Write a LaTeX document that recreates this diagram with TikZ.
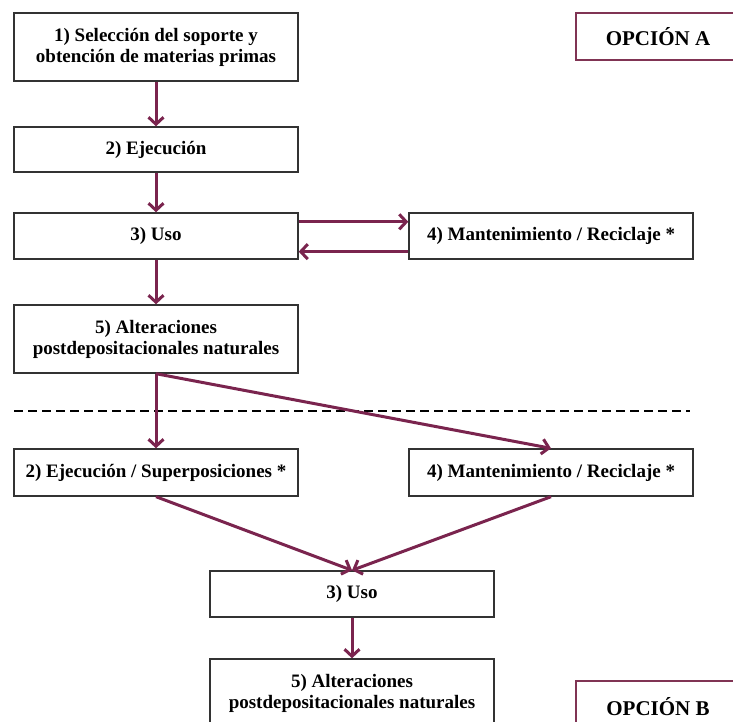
\documentclass[tikz,border=0pt]{standalone}
\usepackage{fontspec}
\setmainfont{Liberation Serif}
\usepackage{tikz}
\usetikzlibrary{arrows.meta,calc}

\definecolor{granate}{RGB}{122,36,78}
\definecolor{bordeop}{RGB}{128,52,84}

\tikzset{
  caja/.style={draw=black!80, line width=1.4pt, fill=white, minimum width=284pt,
    align=center, font=\fontsize{19}{21}\selectfont\bfseries, inner sep=2pt},
  opcion/.style={draw=bordeop, line width=2pt, fill=white, minimum width=164pt,
    font=\fontsize{21}{24}\selectfont\bfseries},
  flecha/.style={granate, line width=3pt, -{Straight Barb[length=7pt,width=15pt]}}
}

\begin{document}
\begin{tikzpicture}[x=1pt,y=-1pt]
\useasboundingbox (0,0) rectangle (733,722);

% opcion A
\node[caja, minimum height=68pt] (sel) at (156,47) {1) Selección del soporte y\\obtención de materias primas};
\node[caja, minimum height=45pt] (eje) at (156,149.5) {2) Ejecución};
\node[caja, minimum height=46pt] (uso) at (156,236) {3) Uso};
\node[caja, minimum height=46pt] (man) at (551,236) {4) Mantenimiento / Reciclaje *};
\node[caja, minimum height=68pt] (alt) at (156,339) {5) Alteraciones\\postdepositacionales naturales};
\node[opcion, minimum height=47pt] (opA) at (658,36.5) {OPCIÓN A};

\draw[flecha] (sel) -- (eje);
\draw[flecha] (eje) -- (uso);
\draw[flecha] (uso) -- (alt);
\draw[flecha] ($(uso.north east)!0.2!(uso.south east)$) -- ($(man.north west)!0.2!(man.south west)$);
\draw[flecha] ($(man.north west)!0.83!(man.south west)$) -- ($(uso.north east)!0.83!(uso.south east)$);

\draw[line width=2.5pt, dash pattern=on 9pt off 5pt] (14,411) -- (690,411);

% opcion B
\node[caja, minimum height=47pt] (sup) at (156,472.5) {2) Ejecución / Superposiciones *};
\node[caja, minimum height=47pt] (man2) at (551,472.5) {4) Mantenimiento / Reciclaje *};
\node[caja, minimum height=46pt] (uso2) at (352,594) {3) Uso};
\node[caja, minimum height=68pt] (alt2) at (352,693) {5) Alteraciones\\postdepositacionales naturales};
\node[opcion, minimum height=52pt] (opB) at (658,707) {OPCIÓN B};

\draw[flecha] (alt.south) -- (sup.north);
\draw[flecha] (alt.south) -- (man2.north);
\draw[flecha] (sup.south) -- (uso2.north);
\draw[flecha] (man2.south) -- (uso2.north);
\draw[flecha] (uso2) -- (alt2);
\end{tikzpicture}
\end{document}
